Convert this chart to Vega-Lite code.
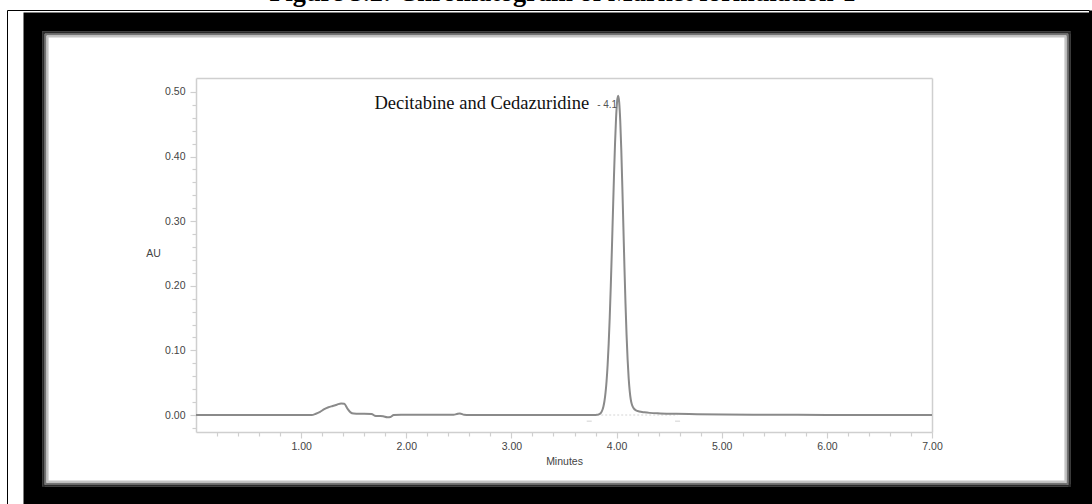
{
  "$schema": "https://vega.github.io/schema/vega-lite/v6.json",
  "width": 1047,
  "height": 474,
  "autosize": {"type": "none"},
  "padding": {"left": 33, "top": 22, "right": 12, "bottom": 8},
  "background": "white",
  "title": {
    "text": "Figure 5.2: Chromatogram of Market formulation-1",
    "font": "Liberation Serif",
    "fontSize": 26.3,
    "fontWeight": "bold",
    "color": "black",
    "anchor": "middle",
    "frame": "group",
    "offset": 4,
    "dx": 6
  },
  "config": {
    "view": {"fill": "white", "stroke": "black", "strokeWidth": 19},
    "axis": {
      "grid": false,
      "labelFont": "Liberation Sans",
      "labelFontSize": 10.5,
      "labelColor": "#444444",
      "titleFont": "Liberation Sans",
      "titleFontSize": 10.5,
      "titleFontWeight": "normal",
      "titleColor": "#444444",
      "domainColor": "#cfcfcf",
      "domainWidth": 1.5,
      "tickColor": "#cfcfcf",
      "tickWidth": 1.2,
      "labelFlush": false
    }
  },
  "datasets": {
    "trace": [
      {"t": 0.0, "au": 0.0},
      {"t": 1.10, "au": 0.0},
      {"t": 1.14, "au": 0.002},
      {"t": 1.18, "au": 0.005},
      {"t": 1.22, "au": 0.009},
      {"t": 1.26, "au": 0.012},
      {"t": 1.30, "au": 0.014},
      {"t": 1.34, "au": 0.016},
      {"t": 1.38, "au": 0.018},
      {"t": 1.41, "au": 0.0175},
      {"t": 1.44, "au": 0.010},
      {"t": 1.47, "au": 0.004},
      {"t": 1.50, "au": 0.0022},
      {"t": 1.55, "au": 0.0018},
      {"t": 1.60, "au": 0.0018},
      {"t": 1.67, "au": 0.0016},
      {"t": 1.70, "au": -0.001},
      {"t": 1.74, "au": -0.0015},
      {"t": 1.78, "au": -0.002},
      {"t": 1.82, "au": -0.0035},
      {"t": 1.85, "au": -0.003},
      {"t": 1.88, "au": 0.0},
      {"t": 1.95, "au": 0.0003},
      {"t": 2.10, "au": 0.0003},
      {"t": 2.45, "au": 0.0003},
      {"t": 2.48, "au": 0.0015},
      {"t": 2.51, "au": 0.0025},
      {"t": 2.55, "au": 0.0005},
      {"t": 2.60, "au": 0.0},
      {"t": 3.78, "au": 0.0},
      {"t": 3.795, "au": 0.0001},
      {"t": 3.815, "au": 0.0003},
      {"t": 3.825, "au": 0.0006},
      {"t": 3.835, "au": 0.0012},
      {"t": 3.845, "au": 0.0024},
      {"t": 3.855, "au": 0.0043},
      {"t": 3.865, "au": 0.0077},
      {"t": 3.875, "au": 0.0132},
      {"t": 3.885, "au": 0.0217},
      {"t": 3.895, "au": 0.0345},
      {"t": 3.905, "au": 0.0527},
      {"t": 3.915, "au": 0.0778},
      {"t": 3.925, "au": 0.1105},
      {"t": 3.935, "au": 0.1513},
      {"t": 3.945, "au": 0.1996},
      {"t": 3.955, "au": 0.2539},
      {"t": 3.965, "au": 0.3111},
      {"t": 3.975, "au": 0.3675},
      {"t": 3.985, "au": 0.4183},
      {"t": 3.995, "au": 0.4588},
      {"t": 4.005, "au": 0.485},
      {"t": 4.015, "au": 0.494},
      {"t": 4.025, "au": 0.484},
      {"t": 4.035, "au": 0.455},
      {"t": 4.045, "au": 0.41},
      {"t": 4.055, "au": 0.352},
      {"t": 4.065, "au": 0.29},
      {"t": 4.075, "au": 0.228},
      {"t": 4.085, "au": 0.172},
      {"t": 4.095, "au": 0.124},
      {"t": 4.105, "au": 0.086},
      {"t": 4.115, "au": 0.057},
      {"t": 4.125, "au": 0.037},
      {"t": 4.135, "au": 0.024},
      {"t": 4.145, "au": 0.0165},
      {"t": 4.155, "au": 0.0125},
      {"t": 4.165, "au": 0.0098},
      {"t": 4.185, "au": 0.0072},
      {"t": 4.215, "au": 0.0055},
      {"t": 4.265, "au": 0.0042},
      {"t": 4.315, "au": 0.0033},
      {"t": 4.415, "au": 0.0025},
      {"t": 4.565, "au": 0.0018},
      {"t": 4.765, "au": 0.0013},
      {"t": 5.015, "au": 0.0009},
      {"t": 5.3, "au": 0.0005},
      {"t": 5.6, "au": 0.0003},
      {"t": 6.0, "au": 0.0001},
      {"t": 7.0, "au": 0.0}
    ],
    "peaks": [
      {"peak": "Decitabine and Cedazuridine", "rt": 4.015, "au": 0.494, "rt_label": "- 4.1"}
    ],
    "integration": [
      {"start": 3.74, "end": 4.58, "level": 0.0}
    ],
    "events": [
      {"t": 3.74, "level": -0.0095},
      {"t": 4.58, "level": -0.0095}
    ]
  },
  "layer": [
    {
      "data": {"name": "trace"},
      "mark": {"type": "line", "opacity": 0},
      "encoding": {
        "x": {
          "field": "t", "type": "quantitative",
          "scale": {"domain": [0, 7], "range": [-26, 1056], "nice": false, "zero": false},
          "axis": {"orient": "top", "offset": 12, "labels": false, "ticks": false, "title": null, "domainColor": "black", "domainWidth": 1}
        },
        "y": {
          "field": "au", "type": "quantitative",
          "scale": {"domain": [-0.0263, 0.5216], "range": [482, -12], "nice": false, "zero": false},
          "axis": {"orient": "left", "offset": 26, "labels": false, "ticks": false, "title": null, "domainColor": "black", "domainWidth": 1}
        }
      }
    },
    {
      "data": {"name": "trace"},
      "mark": {"type": "line", "opacity": 0},
      "encoding": {
        "x": {"field": "t", "type": "quantitative", "scale": {"domain": [0, 7], "range": [-26, 1056], "nice": false, "zero": false}, "axis": null},
        "y": {
          "field": "au", "type": "quantitative",
          "scale": {"domain": [-0.0263, 0.5216], "range": [482, -12], "nice": false, "zero": false},
          "axis": {"orient": "right", "offset": 10, "labels": false, "ticks": false, "title": null, "domainColor": "black", "domainWidth": 3}
        }
      }
    },
    {
      "data": {"name": "trace"},
      "mark": {"type": "line", "opacity": 0},
      "encoding": {
        "x": {
          "field": "t", "type": "quantitative",
          "scale": {"domain": [0, 7], "range": [9.5, 1037.5], "nice": false, "zero": false},
          "axis": {"orient": "top", "offset": -10, "labels": false, "ticks": false, "title": null, "domainColor": "#2a2a2a", "domainWidth": 2.6}
        },
        "y": {
          "field": "au", "type": "quantitative",
          "scale": {"domain": [-0.0263, 0.5216], "range": [464.5, 9.5], "nice": false, "zero": false},
          "axis": {"orient": "left", "offset": -10, "labels": false, "ticks": false, "title": null, "domainColor": "#2a2a2a", "domainWidth": 2.6}
        }
      }
    },
    {
      "data": {"name": "trace"},
      "mark": {"type": "line", "opacity": 0},
      "encoding": {
        "x": {
          "field": "t", "type": "quantitative",
          "scale": {"domain": [0, 7], "range": [9.5, 1037.5], "nice": false, "zero": false},
          "axis": {"orient": "bottom", "offset": -11, "labels": false, "ticks": false, "title": null, "domainColor": "#2a2a2a", "domainWidth": 2.6}
        },
        "y": {
          "field": "au", "type": "quantitative",
          "scale": {"domain": [-0.0263, 0.5216], "range": [464.5, 9.5], "nice": false, "zero": false},
          "axis": {"orient": "right", "offset": -11, "labels": false, "ticks": false, "title": null, "domainColor": "#2a2a2a", "domainWidth": 2.6}
        }
      }
    },
    {
      "data": {"name": "trace"},
      "mark": {"type": "line", "opacity": 0},
      "encoding": {
        "x": {
          "field": "t", "type": "quantitative",
          "scale": {"domain": [0, 7], "range": [11.5, 1035.5], "nice": false, "zero": false},
          "axis": {"orient": "top", "offset": -12, "labels": false, "ticks": false, "title": null, "domainColor": "#747474", "domainWidth": 2.2}
        },
        "y": {
          "field": "au", "type": "quantitative",
          "scale": {"domain": [-0.0263, 0.5216], "range": [462.5, 11.5], "nice": false, "zero": false},
          "axis": {"orient": "left", "offset": -12, "labels": false, "ticks": false, "title": null, "domainColor": "#747474", "domainWidth": 2.2}
        }
      }
    },
    {
      "data": {"name": "trace"},
      "mark": {"type": "line", "opacity": 0},
      "encoding": {
        "x": {
          "field": "t", "type": "quantitative",
          "scale": {"domain": [0, 7], "range": [11.5, 1035.5], "nice": false, "zero": false},
          "axis": {"orient": "bottom", "offset": -13, "labels": false, "ticks": false, "title": null, "domainColor": "#747474", "domainWidth": 2.2}
        },
        "y": {
          "field": "au", "type": "quantitative",
          "scale": {"domain": [-0.0263, 0.5216], "range": [462.5, 11.5], "nice": false, "zero": false},
          "axis": {"orient": "right", "offset": -13, "labels": false, "ticks": false, "title": null, "domainColor": "#747474", "domainWidth": 2.2}
        }
      }
    },
    {
      "data": {"name": "trace"},
      "mark": {"type": "line", "opacity": 0},
      "encoding": {
        "x": {
          "field": "t", "type": "quantitative",
          "scale": {"domain": [0, 7], "range": [13.5, 1033.5], "nice": false, "zero": false},
          "axis": {"orient": "top", "offset": -14, "labels": false, "ticks": false, "title": null, "domainColor": "#c4c4c4", "domainWidth": 2.2}
        },
        "y": {
          "field": "au", "type": "quantitative",
          "scale": {"domain": [-0.0263, 0.5216], "range": [460.5, 13.5], "nice": false, "zero": false},
          "axis": {"orient": "left", "offset": -14, "labels": false, "ticks": false, "title": null, "domainColor": "#c4c4c4", "domainWidth": 2.2}
        }
      }
    },
    {
      "data": {"name": "trace"},
      "mark": {"type": "line", "opacity": 0},
      "encoding": {
        "x": {
          "field": "t", "type": "quantitative",
          "scale": {"domain": [0, 7], "range": [13.5, 1033.5], "nice": false, "zero": false},
          "axis": {"orient": "bottom", "offset": -15, "labels": false, "ticks": false, "title": null, "domainColor": "#c4c4c4", "domainWidth": 2.2}
        },
        "y": {
          "field": "au", "type": "quantitative",
          "scale": {"domain": [-0.0263, 0.5216], "range": [460.5, 13.5], "nice": false, "zero": false},
          "axis": {"orient": "right", "offset": -15, "labels": false, "ticks": false, "title": null, "domainColor": "#c4c4c4", "domainWidth": 2.2}
        }
      }
    },
    {
      "data": {"name": "trace"},
      "mark": {"type": "line", "opacity": 0},
      "encoding": {
        "x": {
          "field": "t", "type": "quantitative",
          "scale": {"domain": [0, 7], "range": [163, 899], "nice": false, "zero": false},
          "axis": {"orient": "top", "offset": -56, "labels": false, "ticks": false, "title": null}
        },
        "y": {
          "field": "au", "type": "quantitative",
          "scale": {"domain": [-0.0263, 0.5216], "range": [410, 56], "nice": false, "zero": false},
          "axis": {"orient": "right", "offset": -148, "labels": false, "ticks": false, "title": null}
        }
      }
    },
    {
      "data": {"name": "trace"},
      "mark": {"type": "line", "opacity": 0},
      "encoding": {
        "x": {
          "field": "t", "type": "quantitative",
          "scale": {"domain": [0, 7], "range": [163, 899], "nice": false, "zero": false},
          "axis": {"orient": "bottom", "offset": -64, "labels": false, "domain": false, "tickSize": 4, "title": null,
                   "values": [0.2, 0.4, 0.6, 0.8, 1.2, 1.4, 1.6, 1.8, 2.2, 2.4, 2.6, 2.8, 3.2, 3.4, 3.6, 3.8, 4.2, 4.4, 4.6, 4.8, 5.2, 5.4, 5.6, 5.8, 6.2, 6.4, 6.6, 6.8]}
        },
        "y": {
          "field": "au", "type": "quantitative",
          "scale": {"domain": [-0.0263, 0.5216], "range": [410, 56], "nice": false, "zero": false},
          "axis": {"orient": "left", "offset": -163, "labels": false, "domain": false, "tickSize": 4, "title": null,
                   "values": [-0.02, 0.02, 0.04, 0.06, 0.08, 0.12, 0.14, 0.16, 0.18, 0.22, 0.24, 0.26, 0.28, 0.32, 0.34, 0.36, 0.38, 0.42, 0.44, 0.46, 0.48]}
        }
      }
    },
    {
      "data": {"name": "integration"},
      "mark": {"type": "rule", "color": "#d4d4d4", "strokeWidth": 1, "strokeDash": [2, 2]},
      "encoding": {
        "x": {"field": "start", "type": "quantitative", "scale": {"domain": [0, 7], "range": [163, 899], "nice": false, "zero": false}, "axis": null},
        "x2": {"field": "end"},
        "y": {"field": "level", "type": "quantitative", "scale": {"domain": [-0.0263, 0.5216], "range": [410, 56], "nice": false, "zero": false}, "axis": null}
      }
    },
    {
      "data": {"name": "events"},
      "mark": {"type": "tick", "orient": "horizontal", "color": "#bdbdbd", "size": 5, "thickness": 1},
      "encoding": {
        "x": {"field": "t", "type": "quantitative", "scale": {"domain": [0, 7], "range": [163, 899], "nice": false, "zero": false}, "axis": null},
        "y": {"field": "level", "type": "quantitative", "scale": {"domain": [-0.0263, 0.5216], "range": [410, 56], "nice": false, "zero": false}, "axis": null}
      }
    },
    {
      "data": {"name": "trace"},
      "mark": {"type": "line", "color": "#8a8a8a", "strokeWidth": 2, "interpolate": "monotone"},
      "encoding": {
        "x": {
          "field": "t", "type": "quantitative",
          "scale": {"domain": [0, 7], "range": [163, 899], "nice": false, "zero": false},
          "axis": {"orient": "bottom", "offset": -64, "values": [1, 2, 3, 4, 5, 6, 7], "format": ".2f", "tickSize": 6,
                   "labelPadding": 3, "title": "Minutes", "titlePadding": 5}
        },
        "y": {
          "field": "au", "type": "quantitative",
          "scale": {"domain": [-0.0263, 0.5216], "range": [410, 56], "nice": false, "zero": false},
          "axis": {"orient": "left", "offset": -163, "values": [0, 0.1, 0.2, 0.3, 0.4, 0.5], "format": ".2f", "tickSize": 6,
                   "labelPadding": 5, "title": "AU", "titleAngle": 0, "titleX": -43, "titleY": 231,
                   "titleAlign": "center", "titleBaseline": "middle"}
        }
      }
    },
    {
      "data": {"name": "peaks"},
      "mark": {"type": "text", "font": "Liberation Serif", "fontSize": 18.5, "color": "#111111", "align": "right", "baseline": "alphabetic", "dx": -29, "dy": 13},
      "encoding": {
        "x": {"field": "rt", "type": "quantitative", "scale": {"domain": [0, 7], "range": [163, 899], "nice": false, "zero": false}, "axis": null},
        "y": {"field": "au", "type": "quantitative", "scale": {"domain": [-0.0263, 0.5216], "range": [410, 56], "nice": false, "zero": false}, "axis": null},
        "text": {"field": "peak"}
      }
    },
    {
      "data": {"name": "peaks"},
      "mark": {"type": "text", "font": "Liberation Sans", "fontSize": 10, "color": "#555555", "align": "right", "baseline": "alphabetic", "dx": -1, "dy": 12},
      "encoding": {
        "x": {"field": "rt", "type": "quantitative", "scale": {"domain": [0, 7], "range": [163, 899], "nice": false, "zero": false}, "axis": null},
        "y": {"field": "au", "type": "quantitative", "scale": {"domain": [-0.0263, 0.5216], "range": [410, 56], "nice": false, "zero": false}, "axis": null},
        "text": {"field": "rt_label"}
      }
    }
  ],
  "resolve": {
    "scale": {"x": "independent", "y": "independent"},
    "axis": {"x": "independent", "y": "independent"}
  }
}
